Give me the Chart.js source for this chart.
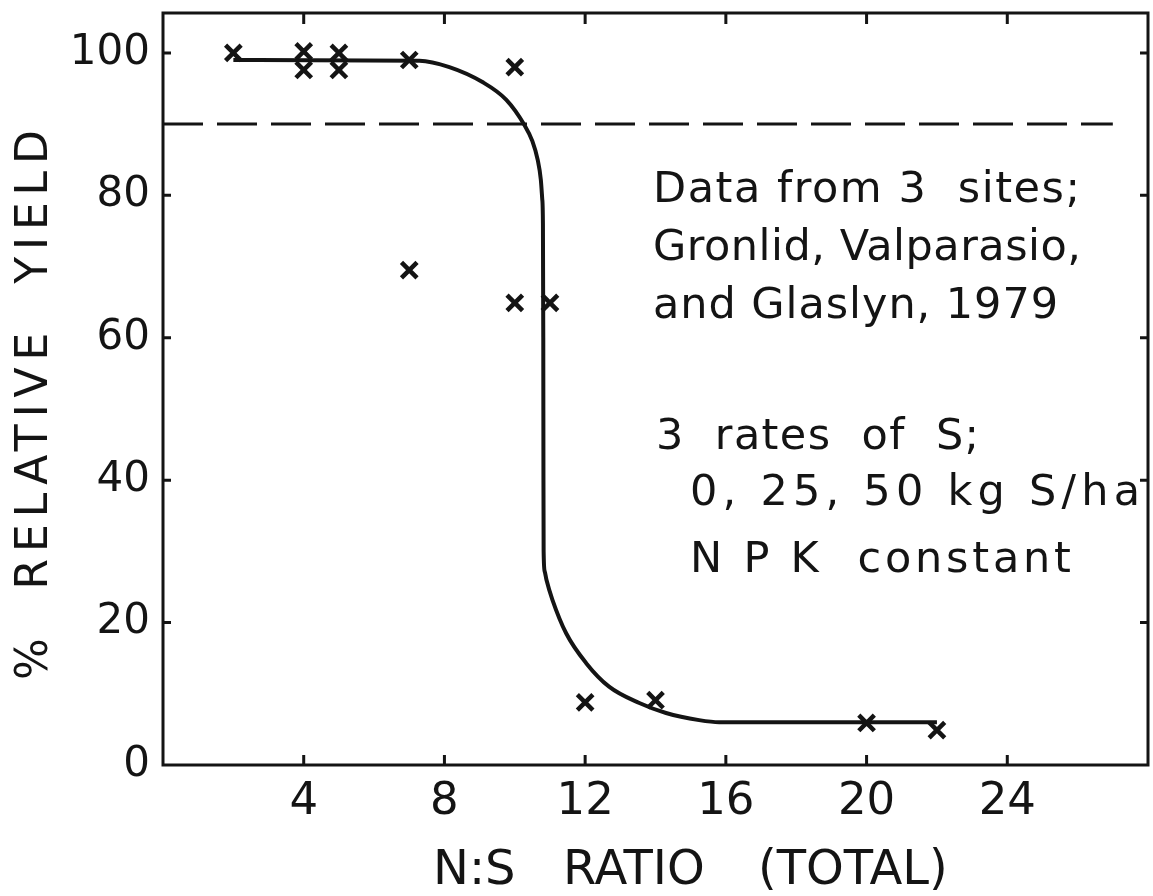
<!DOCTYPE html>
<html>
<head>
<meta charset="utf-8">
<script src="https://cdn.jsdelivr.net/npm/chart.js@4.4.1/dist/chart.umd.min.js"></script>
<style>
  html, body { margin: 0; padding: 0; background: #fff; }
  #wrap { width: 1153px; height: 896px; position: relative; }
</style>
</head>
<body>
<div id="wrap"><canvas id="yieldChart"></canvas></div>
<script>
// observed relative yields (x marks)
const pointsX = [2, 4, 4, 5, 5, 7, 10, 7, 10, 11, 12, 14, 20, 22];
const pointsY = [100, 100.2, 97.6, 100, 97.6, 99, 98, 69.5, 64.9, 64.9, 8.8, 9.1, 5.9, 4.9];

// hand-fitted response curve
const curveX = [2, 7.29, 8.14, 9.08, 9.76, 10.27, 10.5, 10.65, 10.74, 10.78, 10.8, 10.81, 10.815, 10.82, 10.85, 10.9, 11.07, 11.46, 12.03, 12.68, 13.54, 14.3, 15.24, 15.81, 22];
const curveY = [99, 98.9, 98.0, 95.9, 93.4, 89.9, 87.6, 85.0, 82.2, 79.5, 76, 60, 40, 30, 27.2, 26.0, 23.2, 18.5, 14.3, 11.0, 8.7, 7.3, 6.3, 6.0, 6.0];

// 90% critical level
const refX = [0, 27];
const refY = [90, 90];

const xTicks = [4, 8, 12, 16, 20, 24];
const yTicks = [0, 20, 40, 60, 80, 100];

const xTitleWords = ['N:S', 'RATIO', '(TOTAL)'];
const yTitle = '%  RELATIVE  YIELD';
const notes = [
    'Data from 3  sites;',
    'Gronlid, Valparasio,',
    'and Glaslyn, 1979',
    '3  rates  of  S;',
    '0, 25, 50 kg S/ha',
    'N P K  constant'
];

const ink = '#141414';
const font = "'DejaVu Sans', sans-serif";

const toXY = (xs, ys) => xs.map((x, i) => ({ x: x, y: ys[i] }));

// draw text stretched to a given width with letter spacing
function spacedText(ctx, text, x, y, width) {
    ctx.letterSpacing = '0px';
    const w = ctx.measureText(text).width;
    const gap = Math.max(0, (width - w) / Math.max(1, text.length - 1));
    ctx.letterSpacing = gap.toFixed(2) + 'px';
    ctx.fillText(text, x, y);
    ctx.letterSpacing = '0px';
}

// frame, inward ticks, titles and the note block
const decorations = {
    id: 'decorations',
    afterDraw(chart) {
        const ctx = chart.ctx;
        const a = chart.chartArea;
        const xs = chart.scales.x;
        const ys = chart.scales.y;
        ctx.save();
        ctx.strokeStyle = ink;
        ctx.lineWidth = 3;
        ctx.strokeRect(a.left, a.top, a.right - a.left, a.bottom - a.top);

        ctx.beginPath();
        xTicks.forEach(v => {
            const px = xs.getPixelForValue(v);
            ctx.moveTo(px, a.bottom);
            ctx.lineTo(px, a.bottom - 10);
            ctx.moveTo(px, a.top);
            ctx.lineTo(px, a.top + 11);
        });
        yTicks.slice(1).forEach(v => {
            const py = ys.getPixelForValue(v);
            ctx.moveTo(a.left, py);
            ctx.lineTo(a.left + 8, py);
            ctx.moveTo(a.right, py);
            ctx.lineTo(a.right - 8, py);
        });
        ctx.stroke();

        ctx.fillStyle = ink;
        ctx.textBaseline = 'alphabetic';
        ctx.textAlign = 'left';

        // x title, word by word
        ctx.font = '48px ' + font;
        const wordX = [433, 563, 758];
        xTitleWords.forEach((w, i) => ctx.fillText(w, wordX[i], 884));

        // y title, rotated
        ctx.save();
        ctx.translate(47, 405);
        ctx.rotate(-Math.PI / 2);
        ctx.font = '44px ' + font;
        spacedText(ctx, yTitle, -275, 0, 550);
        ctx.restore();

        // notes
        ctx.font = '43px ' + font;
        const spots = [
            [653, 202, 427], [653, 260, 428], [653, 318, 405],
            [656, 449, 323], [690, 505, 450], [690, 572, 381]
        ];
        notes.forEach((t, i) => spacedText(ctx, t, spots[i][0], spots[i][1], spots[i][2]));
        ctx.restore();
    }
};

new Chart(document.getElementById('yieldChart'), {
    type: 'scatter',
    data: {
        datasets: [
            {
                label: 'Relative yield',
                data: toXY(pointsX, pointsY),
                pointStyle: 'crossRot',
                pointRadius: 11,
                borderColor: ink,
                borderWidth: 4.5,
                showLine: false
            },
            {
                label: 'Fitted curve',
                data: toXY(curveX, curveY),
                showLine: true,
                pointRadius: 0,
                borderColor: ink,
                borderWidth: 4,
                cubicInterpolationMode: 'monotone'
            },
            {
                label: '90% yield',
                data: toXY(refX, refY),
                showLine: true,
                pointRadius: 0,
                borderColor: ink,
                borderWidth: 3,
                borderDash: [40, 14]
            }
        ]
    },
    options: {
        responsive: true,
        maintainAspectRatio: false,
        animation: false,
        layout: {
            autoPadding: false,
            padding: { top: 13, right: 5, left: 0, bottom: 0 }
        },
        plugins: {
            legend: { display: false },
            tooltip: { enabled: false }
        },
        scales: {
            x: {
                type: 'linear',
                min: 0,
                max: 28,
                border: { display: false },
                grid: { display: false, drawTicks: false },
                afterFit: s => {
                    s.height = 131;
                    s.paddingLeft = 0;
                    s.paddingRight = 0;
                },
                afterBuildTicks: s => { s.ticks = xTicks.map(v => ({ value: v })); },
                ticks: {
                    padding: 10,
                    color: ink,
                    font: { family: font, size: 45 }
                }
            },
            y: {
                type: 'linear',
                min: 0,
                max: 105.6,
                border: { display: false },
                grid: { display: false, drawTicks: false },
                afterFit: s => {
                    s.width = 163;
                    s.paddingTop = 0;
                    s.paddingBottom = 0;
                },
                afterBuildTicks: s => { s.ticks = yTicks.map(v => ({ value: v })); },
                ticks: {
                    padding: 13,
                    color: ink,
                    font: { family: font, size: 42 }
                }
            }
        }
    },
    plugins: [decorations]
});
</script>
</body>
</html>
